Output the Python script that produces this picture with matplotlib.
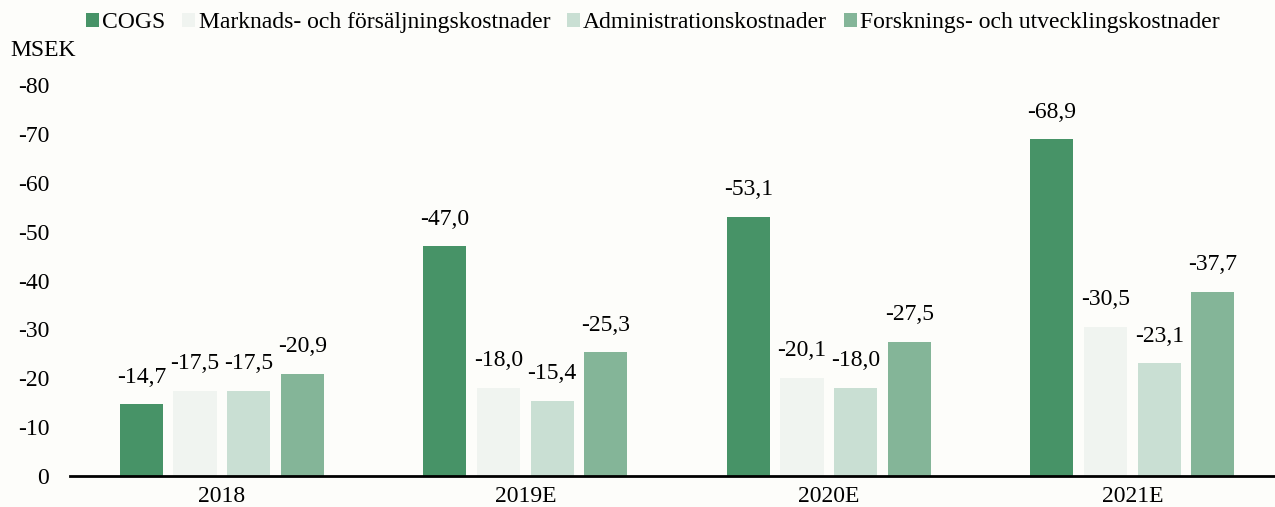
import numpy as np
import matplotlib
matplotlib.use("Agg")
import matplotlib.pyplot as plt

years = ["2018", "2019E", "2020E", "2021E"]
series = ["COGS", "Marknads- och försäljningskostnader",
          "Administrationskostnader", "Forsknings- och utvecklingskostnader"]
cogs = [-14.7, -47.0, -53.1, -68.9]
marknad = [-17.5, -18.0, -20.1, -30.5]
admin = [-17.5, -15.4, -18.0, -23.1]
forsk = [-20.9, -25.3, -27.5, -37.7]
colors = ["#479367", "#f0f4f0", "#c9dfd3", "#84b598"]
yticks = [0, -10, -20, -30, -40, -50, -60, -70, -80]

plt.rcParams['font.family'] = ['Liberation Serif', 'DejaVu Serif']
bg = "#fdfdfa"
fs = 17

fig = plt.figure(figsize=(12.75, 5.07), dpi=100, facecolor=bg)
ax = fig.add_axes([0.055, 0.061, 0.945, 0.771], facecolor=bg)

x = np.arange(len(years))
step = 0.177
width = 0.142
for i, (vals, name) in enumerate(zip([cogs, marknad, admin, forsk], series)):
    pos = x + (i - 1.5) * step
    h = -np.array(vals)
    ax.bar(pos, h, width, color=colors[i], label=name)
    for p, hv, v in zip(pos, h, vals):
        ax.annotate(f"{v:.1f}".replace(".", ","), (p, hv), xytext=(0, 12),
                    textcoords="offset points", ha="center", va="bottom",
                    fontsize=fs)

ax.set_xlim(-0.5, 3.47)
ax.set_ylim(0, 80)
ax.set_yticks([-t for t in yticks])
ax.set_yticklabels([str(t) for t in yticks], fontsize=fs)
ax.set_xticks(x)
ax.set_xticklabels(years, fontsize=fs)
ax.tick_params(length=0, pad=7)
ax.tick_params(axis="y", pad=15)
for s in ["left", "right", "top"]:
    ax.spines[s].set_visible(False)
ax.spines["bottom"].set_linewidth(2)

fig.text(0.008, 0.9, "MSEK", fontsize=fs, va="center")
fig.legend(loc="center", bbox_to_anchor=(0.512, 0.955), ncol=4, frameon=False,
           fontsize=fs, handlelength=0.55, handleheight=0.55, handletextpad=0.15,
           columnspacing=0.7)

fig.savefig("out.png", dpi=100, facecolor=bg)
